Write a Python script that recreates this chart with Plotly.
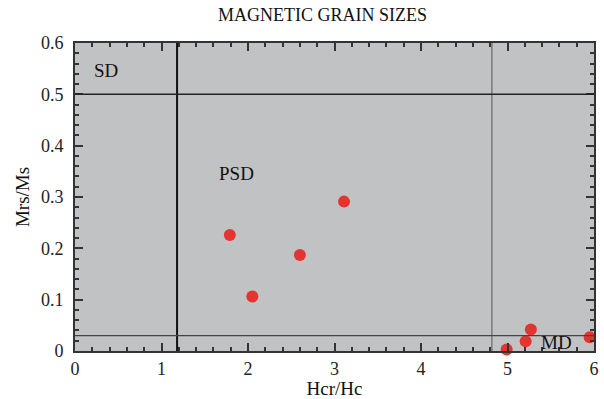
import plotly.graph_objects as go

# Data
hcr_hc = [1.79, 2.05, 2.60, 3.11, 4.99, 5.21, 5.27, 5.95]
mrs_ms = [0.226, 0.106, 0.187, 0.291, 0.003, 0.019, 0.042, 0.027]

# Domain boundaries
sd_mrs = 0.5
md_mrs = 0.03
psd_hcr_low = 1.18
psd_hcr_high = 4.82

region_labels = ["SD", "PSD", "MD"]
region_x = [0.36, 1.87, 5.57]
region_y = [0.547, 0.346, 0.016]

FONT = "Liberation Serif, Times New Roman, serif"

fig = go.Figure()

fig.add_trace(go.Scatter(
    x=hcr_hc, y=mrs_ms, mode="markers",
    marker=dict(color="#e3342f", size=12, symbol="circle", line=dict(width=0)),
    cliponaxis=False, showlegend=False,
))

# Boundary lines
fig.add_shape(type="line", xref="x", yref="y", x0=psd_hcr_low, x1=psd_hcr_low, y0=0, y1=0.6,
              line=dict(color="#111111", width=2))
fig.add_shape(type="line", xref="x", yref="y", x0=psd_hcr_high, x1=psd_hcr_high, y0=0, y1=0.6,
              line=dict(color="#555555", width=1))
fig.add_shape(type="line", xref="x", yref="y", x0=0, x1=6, y0=sd_mrs, y1=sd_mrs,
              line=dict(color="#222222", width=1.5))
fig.add_shape(type="line", xref="x", yref="y", x0=0, x1=6, y0=md_mrs, y1=md_mrs,
              line=dict(color="#444444", width=1.2))

for t, x, y in zip(region_labels, region_x, region_y):
    fig.add_annotation(x=x, y=y, xref="x", yref="y", text=t, showarrow=False,
                       font=dict(family=FONT, size=19, color="#111111"))

fig.add_annotation(x=0.476, y=1.0, xref="paper", yref="paper", yshift=28, yanchor="middle",
                   text="MAGNETIC GRAIN SIZES",
                   showarrow=False, font=dict(family=FONT, size=18, color="#111111"))

axis_common = dict(
    showgrid=False, zeroline=False, showline=True, linecolor="#333333", linewidth=2,
    mirror="ticks", ticks="inside", tickcolor="#333333", tickwidth=2, ticklen=8,
    tickfont=dict(family=FONT, size=18, color="#222222"), automargin=False,
)

fig.update_xaxes(range=[0, 6], dtick=1, tick0=0,
                 minor=dict(ticks="inside", dtick=0.2, ticklen=4, tickwidth=2, tickcolor="#333333"),
                 title=dict(text="Hcr/Hc", font=dict(family=FONT, size=19, color="#111111"), standoff=2),
                 **axis_common)
fig.update_yaxes(range=[0, 0.6], dtick=0.1, tick0=0, ticklabelstandoff=6,
                 minor=dict(ticks="inside", dtick=0.02, ticklen=4, tickwidth=2, tickcolor="#333333"),
                 title=dict(text="Mrs/Ms", font=dict(family=FONT, size=19, color="#111111"), standoff=6),
                 **axis_common)

fig.update_layout(
    width=604, height=399,
    margin=dict(l=75, r=10, t=43, b=48),
    plot_bgcolor="#c1c2c4", paper_bgcolor="white",
)

fig.write_html("out.html", config={"displayModeBar": False},
               post_script="document.body.style.margin='0';")
